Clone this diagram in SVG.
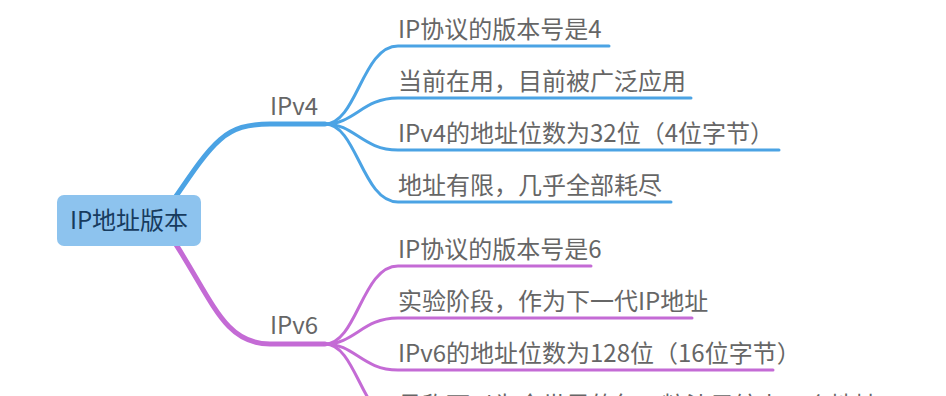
<svg xmlns="http://www.w3.org/2000/svg" width="946" height="396" viewBox="0 0 946 396">
<style>
text{font-family:"Noto Sans CJK SC","Noto Sans",sans-serif;font-size:24px;}
.t{fill:#666666;}
.root{fill:#173b5e;}
.b{fill:none;stroke:#4ba3e4;stroke-linecap:round;}
.p{fill:none;stroke:#c46bd5;stroke-linecap:round;}
.main{stroke-width:5;}
.sub{stroke-width:3;}
</style>
<rect width="946" height="396" fill="#ffffff"/>
<g id="connectors">
<path class="b main" d="M168 208 C213 142,223 124,270 124 L325 124"/>
<path class="p main" d="M168 232 C213 300,223 344,270 344 L325 344"/>
<path class="b sub" d="M325 124 C357 124,362 46,398 46 L609 46"/>
<path class="b sub" d="M325 124 C355 124,362 98,398 98 L691 98"/>
<path class="b sub" d="M325 124 C355 124,362 150,398 150 L779 150"/>
<path class="b sub" d="M325 124 C357 124,362 202,398 202 L671 202"/>
<path class="p sub" d="M325 344 C357 344,362 266,398 266 L591 266"/>
<path class="p sub" d="M325 344 C355 344,362 318,398 318 L692 318"/>
<path class="p sub" d="M325 344 C355 344,362 370,398 370 L773 370"/>
<path class="p sub" d="M325 344 C357 344,362 422,398 422 L886 422"/>
</g>
<g id="root">
<rect x="57" y="195" width="144" height="51" rx="7" fill="#8dc3ee"/>
<text class="root" x="129" y="229" text-anchor="middle">IP地址版本</text>
</g>
<g id="ipv4"><text class="t" x="270" y="115">IPv4</text></g>
<g id="ipv6"><text class="t" x="270" y="334">IPv6</text></g>
<g id="v4-1"><text class="t" x="398" y="38">IP协议的版本号是4</text></g>
<g id="v4-2"><text class="t" x="398" y="90">当前在用，目前被广泛应用</text></g>
<g id="v4-3"><text class="t" x="398" y="142">IPv4的地址位数为32位（4位字节）</text></g>
<g id="v4-4"><text class="t" x="398" y="194">地址有限，几乎全部耗尽</text></g>
<g id="v6-1"><text class="t" x="398" y="258">IP协议的版本号是6</text></g>
<g id="v6-2"><text class="t" x="398" y="310">实验阶段，作为下一代IP地址</text></g>
<g id="v6-3"><text class="t" x="398" y="362">IPv6的地址位数为128位（16位字节）</text></g>
<g id="v6-4"><text class="t" x="398" y="414">号称可以为全世界的每一粒沙子编上一个地址</text></g>
</svg>
